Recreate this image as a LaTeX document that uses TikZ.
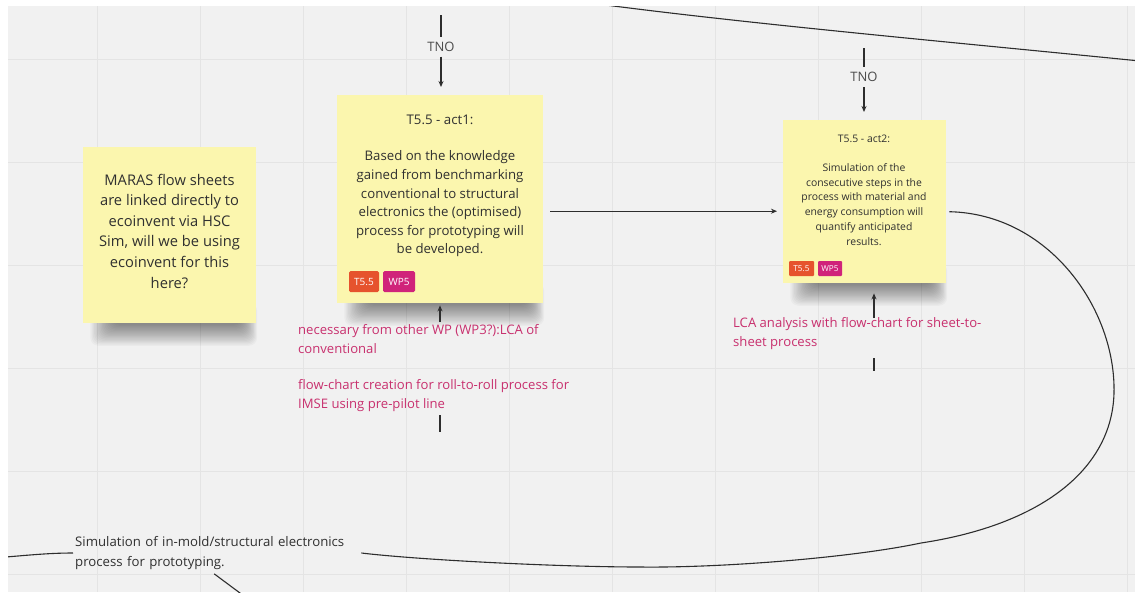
\documentclass[tikz,border=0pt]{standalone}
\usepackage{fontspec}
\setmainfont{Open Sans}
\usetikzlibrary{arrows.meta}

\definecolor{canvas}{RGB}{241,241,241}
\definecolor{gridc}{RGB}{228,228,228}
\definecolor{sticky}{RGB}{251,246,174}
\definecolor{ink}{RGB}{48,48,48}
\definecolor{linkc}{RGB}{45,45,45}
\definecolor{pinktxt}{RGB}{200,48,110}
\definecolor{tagorange}{RGB}{230,83,45}
\definecolor{tagmagenta}{RGB}{208,35,122}

\newcommand{\fsz}[2]{\fontsize{#1}{#2}\selectfont}

% soft shadow under a sticky note: left x, right x, bottom y
\newcommand{\stickyshadow}[3]{%
  \foreach \k in {1,...,18}{%
    \fill[black,opacity=0.028,rounded corners=8pt]
      (#1+6+\k*1.3,#3-20) rectangle (#2+2-\k*0.9,#3+24-1.25*\k);
  }}

\tikzset{
  note/.style={fill=sticky, draw=none, inner sep=0pt, anchor=north west},
  txt/.style={inner sep=0pt, text=ink},
  pinklabel/.style={inner sep=0pt, text=pinktxt, align=left, anchor=west, font=\fsz{13.1}{19}},
  conn/.style={draw=linkc, line width=1.1pt},
  arr/.style={conn, -{Stealth[length=6pt,width=5pt]}},
  tagbig/.style={text=white, inner sep=0pt, rounded corners=1.5pt, minimum height=21pt, font=\fsz{10}{12}},
  tagsmall/.style={text=white, inner sep=0pt, rounded corners=1pt, minimum height=15pt, font=\fsz{8.2}{10}},
}

\begin{document}
\begin{tikzpicture}[x=1pt,y=-1pt]
\useasboundingbox (0,0) rectangle (1135,592);
\fill[white] (0,0) rectangle (1135,592);
\begin{scope}
\clip (8,6) rectangle (1135,592);
\fill[canvas] (8,6) rectangle (1135,592);
% board grid
\foreach \gx in {97,200,...,1127} \draw[gridc,line width=1pt] (\gx,6) -- (\gx,592);
\foreach \gy in {59,162,...,574} \draw[gridc,line width=1pt] (8,\gy) -- (1135,\gy);

% shadows
\stickyshadow{83}{256}{323}
\stickyshadow{337}{543}{303}
\stickyshadow{783}{946}{283}

% sticky notes
\node[note, minimum width=173pt, minimum height=176pt] (maras) at (83,147) {};
\node[note, minimum width=206pt, minimum height=208pt] (act1) at (337,95) {};
\node[note, minimum width=163pt, minimum height=163pt] (act2) at (783,120) {};

% note texts
\node[txt, font=\fsz{14.7}{20.6}, align=center] (marastxt) at (169.5,231) {MARAS flow sheets\\are linked directly to\\ecoinvent via HSC\\Sim, will we be using\\ecoinvent for this\\here?};

\node[txt, font=\fsz{13.3}{16}] (act1title) at (440,120) {T5.5 - act1:};
\node[txt, font=\fsz{13.2}{18.6}, align=center] (act1body) at (440,204) {Based on the knowledge\\gained from benchmarking\\conventional to structural\\electronics the (optimised)\\process for prototyping will\\be developed.};
\node[tagbig, fill=tagorange, minimum width=30pt] (act1t) at (364,281.5) {T5.5};
\node[tagbig, fill=tagmagenta, minimum width=32pt] (act1w) at (399,281.5) {WP5};

\node[txt, font=\fsz{10.4}{13}] (act2title) at (864,138.5) {T5.5 - act2:};
\node[txt, font=\fsz{10.4}{14.9}, align=center] (act2body) at (864,204.5) {Simulation of the\\consecutive steps in the\\process with material and\\energy consumption will\\quantify anticipated\\results.};
\node[tagsmall, fill=tagorange, minimum width=25pt] (act2t) at (801.5,268.5) {T5.5};
\node[tagsmall, fill=tagmagenta, minimum width=24pt] (act2w) at (830,268.5) {WP5};

% free labels
\node[txt, font=\fsz{13}{16}, text=black!70, minimum height=19pt] (tno1) at (441,47) {TNO};
\node[txt, font=\fsz{13}{16}, text=black!70, minimum height=20pt] (tno2) at (864,77) {TNO};

\node[pinklabel] (need) at (298,339) {necessary from other WP (WP3?):LCA of\\conventional};
\node[pinklabel] (flow) at (298,396) {flow-chart creation for roll-to-roll process for\\IMSE using pre-pilot line};
\node[pinklabel] (lca) at (733,334) {LCA analysis with flow-chart for sheet-to-\\sheet process};

\node[txt, font=\fsz{13.2}{20}, align=left, text width=284pt, inner sep=2pt, anchor=west] (sim) at (73,553) {Simulation of in-mold/structural electronics\\process for prototyping.};

% connector end points
\coordinate (tno1top) at (441,15);
\coordinate (tno2top) at (864,48);
\coordinate (act1in) at (440,322);
\coordinate (act1lowA) at (440,415);
\coordinate (act1lowB) at (440,432);
\coordinate (act2in) at (874,318);
\coordinate (act2lowA) at (874,358);
\coordinate (act2lowB) at (874,371);
\coordinate (topA) at (598,4);
\coordinate (topB) at (1140,61);
\coordinate (leftend) at (6,557);
\coordinate (bottomend) at (244,596);

% connectors
\draw[conn] (tno1top) -- (tno1.north);
\draw[arr, shorten >=8pt] (tno1.south) -- (tno1.south |- act1.north);
\draw[conn] (tno2top) -- (tno2.north);
\draw[arr, shorten >=8pt] (tno2.south) -- (tno2.south |- act2.north);

\draw[arr] ([shift={(7,12)}]act1.east) -- ([shift={(-6,9.5)}]act2.west);

\draw[arr, shorten >=2pt] (act1in) -- (act1in |- act1.south);
\draw[conn] (act1lowA) -- (act1lowB);
\draw[arr, shorten >=10pt] (act2in) -- (act2in |- act2.south);
\draw[conn] (act2lowA) -- (act2lowB);

\draw[conn] (topA) .. controls (750,24) and (950,42) .. (topB);

\draw[conn] ([shift={(3,10)}]act2.east)
  .. controls (1050,214) and (1116,310) .. (1114,393)
  .. controls (1112,470) and (1040,525) .. (921,543)
  .. controls (850,558) and (720,568) .. (640,567)
  .. controls (560,567) and (420,560) .. (sim.east);

\draw[conn] (leftend) .. controls (30,555) and (50,553) .. (sim.west);
\draw[conn] ([shift={(-3,2)}]sim.south) -- (bottomend);
\end{scope}
\end{tikzpicture}
\end{document}
